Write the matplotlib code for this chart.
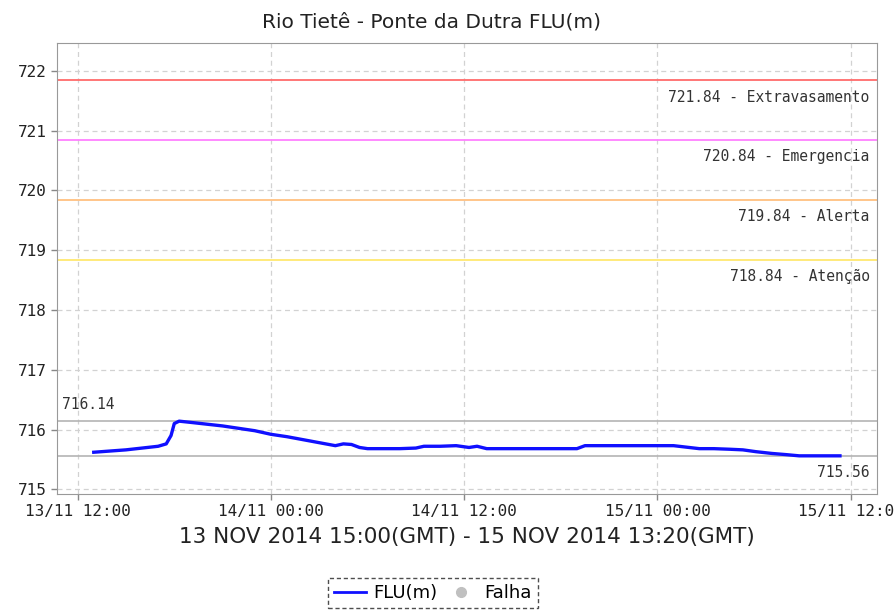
import matplotlib
matplotlib.use("Agg")
import matplotlib.pyplot as plt
import matplotlib.dates as mdates
from matplotlib.lines import Line2D
from datetime import datetime, timedelta

# ---- data (local time, hours since 13/11/2014 12:00) ----
hours = [1.0, 2.0, 3.0, 4.0, 5.0, 5.5, 5.8, 6.0, 6.3, 7.0, 8.0, 9.0, 10.0, 11.0,
         12.0, 13.0, 14.0, 15.0, 16.0, 16.5, 17.0, 17.5, 18.0, 19.0, 20.0, 21.0,
         21.5, 22.5, 23.5, 24.3, 24.8, 25.4, 26.5, 27.5, 28.5, 29.5, 31.0, 31.5,
         33.0, 35.0, 37.0, 38.6, 39.5, 40.5, 41.3, 42.1, 43.1, 44.0, 44.8, 46.0,
         47.33]
levels = [715.62, 715.64, 715.66, 715.69, 715.72, 715.76, 715.90, 716.10, 716.14,
          716.12, 716.09, 716.06, 716.02, 715.98, 715.92, 715.88, 715.83, 715.78,
          715.73, 715.76, 715.75, 715.70, 715.68, 715.68, 715.68, 715.69, 715.72,
          715.72, 715.73, 715.70, 715.72, 715.68, 715.68, 715.68, 715.68, 715.68,
          715.68, 715.73, 715.73, 715.73, 715.73, 715.68, 715.68, 715.67, 715.66,
          715.63, 715.60, 715.58, 715.56, 715.56, 715.56]

ref_max = 716.14
ref_min = 715.56
thresholds = [721.84, 720.84, 719.84, 718.84]
threshold_names = ["Extravasamento", "Emergencia", "Alerta", "Atenção"]
threshold_colors = ["#ff6b6b", "#ff80ff", "#ffc080", "#ffe870"]

title = "Rio Tietê - Ponte da Dutra FLU(m)"
xlabel = "13 NOV 2014 15:00(GMT) - 15 NOV 2014 13:20(GMT)"

base = datetime(2014, 11, 13, 12, 0)
times = [base + timedelta(hours=h) for h in hours]

fig = plt.figure(figsize=(8.94, 6.16), dpi=100)
ax = fig.add_axes([56.7 / 894, 1 - 493.5 / 616, (877 - 56.7) / 894, (493.5 - 42.7) / 616])

ax.set_xlim(base - timedelta(hours=1.30), base + timedelta(hours=49.63))
ax.set_ylim(714.93, 722.47)

ax.grid(True, color="#d2d2d2", linestyle=(0, (4, 3)), linewidth=0.9)
ax.set_axisbelow(True)

# reference lines
ax.axhline(ref_max, color="#b4b4b4", linewidth=1.2)
ax.axhline(ref_min, color="#b4b4b4", linewidth=1.2)
for v, c in zip(thresholds, threshold_colors):
    ax.axhline(v, color=c, linewidth=1.3)

tfont = dict(fontsize=10.5, color="#333333", family="DejaVu Sans Mono")
for v, n in zip(thresholds, threshold_names):
    ax.text(0.991, v - 0.28, f"{v:.2f} - {n}", transform=ax.get_yaxis_transform(),
            ha="right", va="center", **tfont)
ax.text(0.007, ref_max + 0.28, f"{ref_max:.2f}", transform=ax.get_yaxis_transform(),
        ha="left", va="center", **tfont)
ax.text(0.991, ref_min - 0.28, f"{ref_min:.2f}", transform=ax.get_yaxis_transform(),
        ha="right", va="center", **tfont)

ax.plot(times, levels, color="#1010ff", linewidth=2.4, zorder=5)

ax.xaxis.set_major_locator(mdates.HourLocator(byhour=[0, 12]))
ax.xaxis.set_major_formatter(mdates.DateFormatter("%d/%m %H:%M"))
ax.set_yticks(range(715, 723))
ax.tick_params(axis="both", direction="out", length=4, width=1, color="#888888",
               labelsize=11.5, labelcolor="#222222")
for lbl in ax.get_xticklabels() + ax.get_yticklabels():
    lbl.set_family("DejaVu Sans Mono")
for s in ax.spines.values():
    s.set_color("#999999")

ax.set_xlabel(xlabel, fontsize=15.5, color="#222222", labelpad=6)
fig.text(432 / 894, 1 - 22 / 616, title, ha="center", va="center", fontsize=14.5,
         color="#222222")

handles = [Line2D([], [], color="#1010ff", linewidth=2),
           Line2D([], [], color="#c0c0c0", marker="o", linestyle="none", markersize=7)]
leg = fig.legend(handles, ["FLU(m)", "Falha"], loc="center",
                 bbox_to_anchor=(433 / 894, 1 - 593 / 616), ncol=2, fontsize=13,
                 frameon=True, fancybox=False, handlelength=1.8, handletextpad=0.4,
                 columnspacing=0.4, borderpad=0.35)
leg.get_frame().set_edgecolor("#222222")
leg.get_frame().set_linestyle((0, (3, 2)))
leg.get_frame().set_linewidth(1.0)

fig.savefig("out.png", dpi=100)
